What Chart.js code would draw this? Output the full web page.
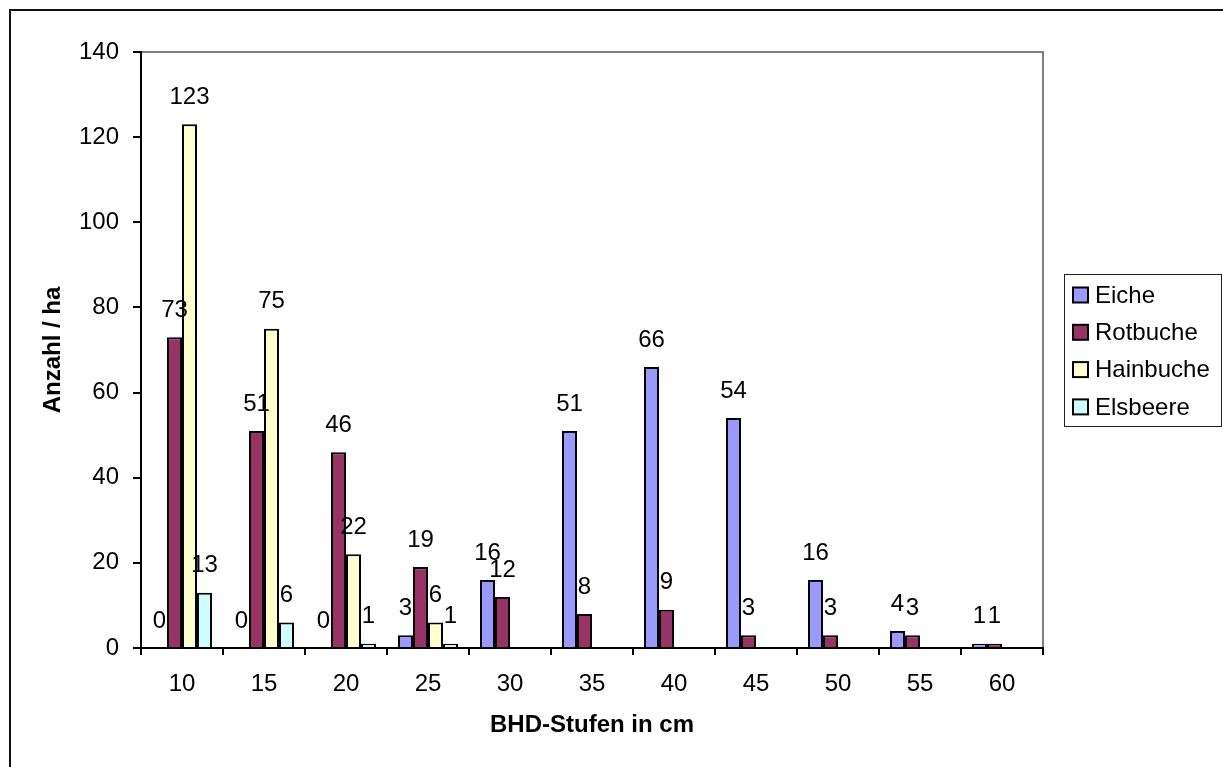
<!DOCTYPE html>
<html>
<head>
<meta charset="utf-8">
<title>BHD-Stufen</title>
<script src="https://cdn.jsdelivr.net/npm/chart.js@4.4.1/dist/chart.umd.min.js"></script>
<style>
  html, body { margin: 0; padding: 0; background: #fff; }
  #wrap { position: relative; width: 1223px; height: 767px; }
</style>
</head>
<body>
<div id="wrap"><canvas id="chart"></canvas></div>
<script>
// Stem counts per hectare by diameter class (BHD, cm)
const categories = ['10', '15', '20', '25', '30', '35', '40', '45', '50', '55', '60'];
const seriesNames = ['Eiche', 'Rotbuche', 'Hainbuche', 'Elsbeere'];
const eiche     = [0, 0, 0, 3, 16, 51, 66, 54, 16, 4, 1];
const rotbuche  = [73, 51, 46, 19, 12, 8, 9, 3, 3, 3, 1];
const hainbuche = [123, 75, 22, 6, null, null, null, null, null, null, null];
const elsbeere  = [13, 6, 1, 1, null, null, null, null, null, null, null];
const yMin = 0, yMax = 140, yStep = 20;

const seriesColors = ['#9999FF', '#993366', '#FFFFCC', '#CCFFFF'];
const FONT = "'Liberation Sans', Arial, Helvetica, sans-serif";

Chart.defaults.font.family = FONT;
Chart.defaults.font.size = 24;
Chart.defaults.color = '#000';

// Outer chart frame (top/left) and grey plot-area border (top/right)
const framePlugin = {
  id: 'frame',
  beforeDraw(chart) {
    const { ctx, chartArea: a } = chart;
    ctx.save();
    ctx.strokeStyle = '#111';
    ctx.lineWidth = 2;
    ctx.beginPath();
    ctx.moveTo(10, chart.height + 5);
    ctx.lineTo(10, 10);
    ctx.lineTo(chart.width + 5, 10);
    ctx.stroke();
    ctx.strokeStyle = '#808080';
    ctx.beginPath();
    ctx.moveTo(a.left, a.top);
    ctx.lineTo(a.right, a.top);
    ctx.lineTo(a.right, a.bottom);
    ctx.stroke();
    ctx.restore();
  }
};

// Value labels centred above every bar
const valueLabels = {
  id: 'valueLabels',
  afterDatasetsDraw(chart) {
    const { ctx } = chart;
    ctx.save();
    ctx.font = '24px ' + FONT;
    ctx.fillStyle = '#000';
    ctx.textAlign = 'center';
    ctx.textBaseline = 'middle';
    chart.data.datasets.forEach((ds, i) => {
      const meta = chart.getDatasetMeta(i);
      meta.data.forEach((bar, j) => {
        const v = ds.data[j];
        if (v === null || v === undefined) return;
        ctx.fillText(String(v), bar.x, bar.y - 27);
      });
    });
    ctx.restore();
  }
};

// Boxed legend to the right of the plot
const boxLegend = {
  id: 'boxLegend',
  afterDraw(chart) {
    const { ctx } = chart;
    const left = 1064, top = 274, right = 1221, bottom = 426;
    ctx.save();
    ctx.strokeStyle = '#222';
    ctx.lineWidth = 1;
    ctx.strokeRect(left + 0.5, top + 0.5, right - left, bottom - top);
    ctx.font = '24px ' + FONT;
    ctx.textAlign = 'left';
    ctx.textBaseline = 'middle';
    chart.data.datasets.forEach((ds, i) => {
      const cy = 295 + i * 37.3;
      ctx.fillStyle = ds.backgroundColor;
      ctx.fillRect(1073, cy - 7.5, 15, 15);
      ctx.strokeStyle = '#000';
      ctx.lineWidth = 2;
      ctx.strokeRect(1073, cy - 7.5, 15, 15);
      ctx.fillStyle = '#000';
      ctx.fillText(ds.label, 1095, cy + 1);
    });
    ctx.restore();
  }
};

const allSeries = [eiche, rotbuche, hainbuche, elsbeere];

new Chart(document.getElementById('chart'), {
  type: 'bar',
  data: {
    labels: categories,
    datasets: seriesNames.map((name, i) => ({
      label: name,
      data: allSeries[i],
      backgroundColor: seriesColors[i],
      borderColor: '#000',
      borderWidth: 2,
      categoryPercentage: 60 / 82,
      barPercentage: 1.0
    }))
  },
  options: {
    responsive: true,
    maintainAspectRatio: false,
    animation: false,
    devicePixelRatio: 1,
    layout: { padding: { left: 10, top: 52, right: 180, bottom: 0 } },
    plugins: {
      legend: { display: false },
      tooltip: { enabled: false }
    },
    scales: {
      x: {
        afterFit(scale) { scale.height = 119; },
        grid: {
          offset: true,
          drawOnChartArea: false,
          drawTicks: true,
          tickLength: 7,
          tickColor: '#000',
          lineWidth: 2
        },
        border: { display: true, color: '#000', width: 2 },
        ticks: { padding: 15, font: { size: 24 }, color: '#000', maxRotation: 0, autoSkip: false },
        title: {
          display: true,
          text: 'BHD-Stufen in cm',
          font: { size: 24, weight: 'bold' },
          color: '#000',
          padding: { top: 0, bottom: 27 }
        }
      },
      y: {
        min: yMin,
        max: yMax,
        afterFit(scale) { scale.width = 131; },
        grid: {
          drawOnChartArea: false,
          drawTicks: true,
          tickLength: 8,
          tickColor: '#000',
          lineWidth: 2
        },
        border: { display: true, color: '#000', width: 2 },
        ticks: { stepSize: yStep, padding: 14, font: { size: 24 }, color: '#000' },
        title: {
          display: true,
          text: 'Anzahl / ha',
          font: { size: 24, weight: 'bold' },
          color: '#000',
          padding: { top: 29, bottom: 0 }
        }
      }
    }
  },
  plugins: [framePlugin, valueLabels, boxLegend]
});
</script>
</body>
</html>
